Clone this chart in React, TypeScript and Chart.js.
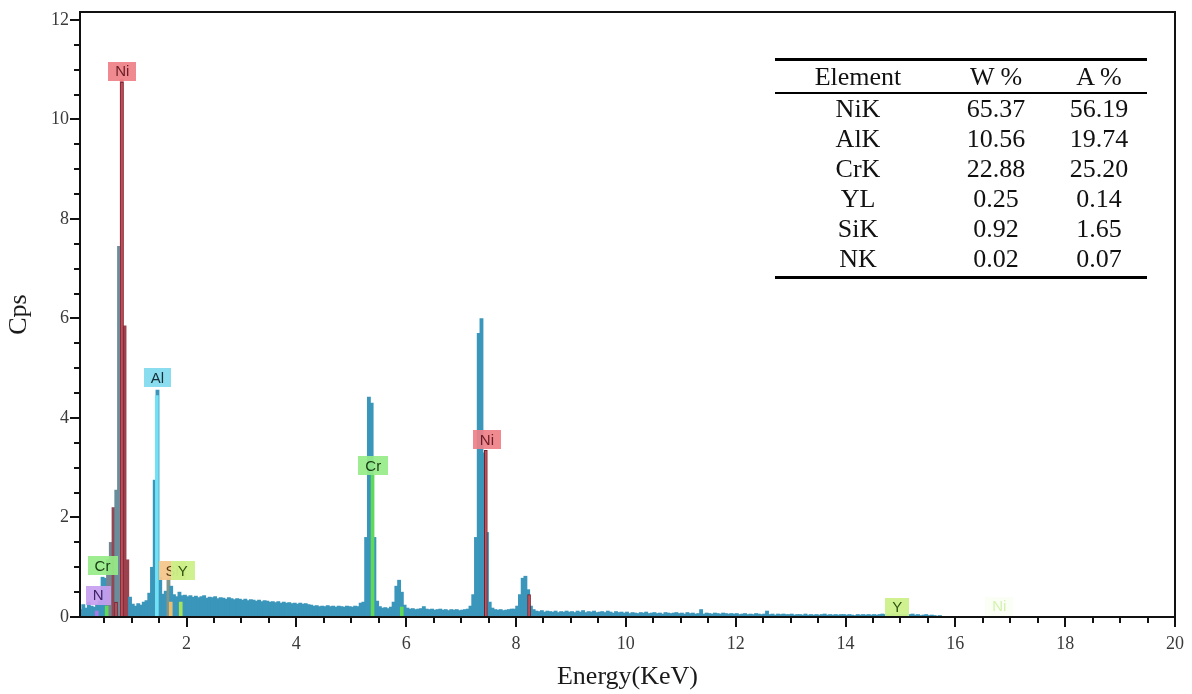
import React, { useEffect, useRef } from 'react';
import { Chart, registerables } from 'chart.js';

Chart.register(...registerables);

// ---------------- data ----------------
// EDS spectrum: counts per second in channels of 0.05 keV starting at 0.10 keV
const CHANNEL_START_KEV = 0.1;
const CHANNEL_WIDTH_KEV = 0.05;

const spectrumCps: number[] = [
  // 0.10 – 0.95 keV
  0.15, 0.25, 0.18, 0.30, 0.22, 0.20, 0.26, 0.32, 0.80, 0.78, 1.15, 1.50, 2.20, 2.55, 7.45, 10.80, 5.85, 1.15,
  // 1.00 – 1.95
  0.40, 0.26, 0.22, 0.27, 0.24, 0.30, 0.33, 0.48, 1.00, 2.75, 4.56, 0.80, 0.46, 0.52, 0.78, 0.62, 0.45, 0.41, 0.50, 0.43,
  // 2.00 – 2.95
  0.44, 0.41, 0.43, 0.40, 0.42, 0.39, 0.41, 0.43, 0.38, 0.40, 0.39, 0.41, 0.37, 0.39, 0.38, 0.36, 0.39, 0.37, 0.35, 0.37,
  // 3.00 – 3.95
  0.36, 0.34, 0.36, 0.33, 0.35, 0.34, 0.32, 0.34, 0.31, 0.33, 0.32, 0.30, 0.31, 0.29, 0.31, 0.28, 0.30, 0.28, 0.29, 0.27,
  // 4.00 – 4.95
  0.28, 0.26, 0.28, 0.26, 0.27, 0.25, 0.24, 0.22, 0.23, 0.21, 0.22, 0.21, 0.23, 0.21, 0.22, 0.20, 0.22, 0.21, 0.20, 0.22,
  // 5.00 – 5.95
  0.21, 0.20, 0.22, 0.21, 0.28, 0.30, 1.60, 4.42, 4.30, 1.60, 0.32, 0.21, 0.18, 0.19, 0.17, 0.20, 0.30, 0.62, 0.74, 0.50,
  // 6.00 – 6.95
  0.24, 0.18, 0.16, 0.17, 0.15, 0.16, 0.17, 0.21, 0.16, 0.15, 0.16, 0.14, 0.15, 0.16, 0.14, 0.15, 0.13, 0.15, 0.14, 0.15,
  // 7.00 – 7.95
  0.13, 0.14, 0.15, 0.16, 0.22, 0.45, 1.60, 5.70, 6.00, 3.30, 1.70, 0.30, 0.18, 0.15, 0.14, 0.15, 0.13, 0.14, 0.15, 0.16,
  // 8.00 – 8.95
  0.16, 0.22, 0.45, 0.78, 0.82, 0.55, 0.22, 0.15, 0.12, 0.11, 0.13, 0.10, 0.12, 0.11, 0.10, 0.12, 0.09, 0.11, 0.10, 0.12,
  // 9.00 – 9.95
  0.10, 0.11, 0.09, 0.12, 0.10, 0.13, 0.09, 0.11, 0.10, 0.12, 0.09, 0.10, 0.11, 0.09, 0.12, 0.10, 0.08, 0.11, 0.09, 0.10,
  // 10.00 – 10.95
  0.08, 0.10, 0.07, 0.09, 0.08, 0.07, 0.09, 0.08, 0.10, 0.07, 0.08, 0.09, 0.07, 0.08, 0.06, 0.09, 0.08, 0.07, 0.08, 0.09,
  // 11.00 – 11.95
  0.07, 0.08, 0.06, 0.09, 0.07, 0.08, 0.06, 0.07, 0.15, 0.06, 0.08, 0.07, 0.06, 0.08, 0.07, 0.06, 0.08, 0.07, 0.06, 0.07,
  // 12.00 – 12.95
  0.06, 0.07, 0.05, 0.06, 0.07, 0.05, 0.06, 0.05, 0.07, 0.06, 0.05, 0.06, 0.12, 0.05, 0.06, 0.04, 0.06, 0.05, 0.06, 0.05,
  // 13.00 – 13.95
  0.05, 0.06, 0.04, 0.05, 0.05, 0.04, 0.06, 0.04, 0.05, 0.04, 0.05, 0.04, 0.05, 0.06, 0.04, 0.05, 0.04, 0.05, 0.04, 0.05,
  // 14.00 – 14.95
  0.05, 0.04, 0.05, 0.04, 0.03, 0.05, 0.04, 0.05, 0.04, 0.05, 0.04, 0.05, 0.04, 0.05, 0.06, 0.05, 0.04, 0.05, 0.06, 0.05,
  // 15.00 – 15.95
  0.05, 0.04, 0.05, 0.04, 0.05, 0.06, 0.04, 0.05, 0.03, 0.04, 0.05, 0.03, 0.04, 0.03, 0.02, 0.03, 0.00, 0.00, 0.00, 0.00,
];

// element line markers
const markerElement = ['N', 'Cr', 'Ni', 'Ni', 'Al', 'Si', 'Y', 'Cr', 'Cr', 'Ni', 'Ni', 'Y'];
const markerEnergy = [0.392, 0.573, 0.743, 0.851, 1.487, 1.740, 1.922, 5.415, 5.947, 7.478, 8.265, 14.958];
const markerCps = [0.12, 0.22, 0.30, 10.75, 4.45, 0.30, 0.30, 2.85, 0.20, 3.35, 0.45, 0.05];

// element tags
const labelText = ['Ni', 'Al', 'N', 'Cr', 'Si', 'Y', 'Cr', 'Ni', 'Y', 'Ni'];
const labelEnergy = [0.83, 1.47, 0.39, 0.47, 1.74, 1.93, 5.40, 7.47, 14.94, 16.8];
const labelCps = [10.97, 4.81, 0.44, 1.03, 0.93, 0.93, 3.04, 3.56, 0.20, 0.22];

// axes
const xTickLabels = [2, 4, 6, 8, 10, 12, 14, 16, 18, 20];
const yTickLabels = [0, 2, 4, 6, 8, 10, 12];

// composition table
const tableHeader = ['Element', 'W %', 'A %'];
const tableElements = ['NiK', 'AlK', 'CrK', 'YL', 'SiK', 'NK'];
const weightPct = ['65.37', '10.56', '22.88', '0.25', '0.92', '0.02'];
const atomicPct = ['56.19', '19.74', '25.20', '0.14', '1.65', '0.07'];

// ---------------- styles ----------------
const SERIF = '"Liberation Serif", "Times New Roman", Times, serif';
const SANS = '"Liberation Sans", Arial, sans-serif';
const TEAL = 'rgb(58,150,186)';
const X_MIN = 0.06;
const X_MAX = 20;
const Y_MAX = 12.16;
const MINOR_STEP = 0.5;

const CHANNEL_TINTS = [
  { from: 0.575, to: 0.675, color: 'rgb(118,132,146)' },
  { from: 0.675, to: 0.725, color: 'rgb(146,72,84)' },
  { from: 0.725, to: 0.825, color: 'rgb(104,142,156)' },
  { from: 0.825, to: 0.875, color: 'rgb(214,110,120)' },
  { from: 0.875, to: 0.975, color: 'rgb(156,66,78)' },
  { from: 1.675, to: 1.725, color: 'rgb(128,150,140)' },
];

const ELEMENT_STYLE: Record<string, { box: string; text: string; line: string; edge: string }> = {
  Ni: { box: 'rgba(238,128,136,0.92)', text: '#6b1d25', line: 'rgb(200,82,94)', edge: 'rgb(112,32,42)' },
  Al: { box: 'rgba(128,218,238,0.92)', text: '#16303a', line: 'rgb(112,226,246)', edge: 'rgb(112,226,246)' },
  Cr: { box: 'rgba(150,236,135,0.92)', text: '#173a12', line: 'rgb(96,216,88)', edge: 'rgb(96,216,88)' },
  N: { box: 'rgba(200,160,240,0.92)', text: '#3d2466', line: 'rgb(170,120,230)', edge: 'rgb(170,120,230)' },
  Si: { box: 'rgba(244,198,140,0.95)', text: '#5a3a10', line: 'rgb(235,190,110)', edge: 'rgb(235,190,110)' },
  Y: { box: 'rgba(204,240,138,0.95)', text: '#2e5410', line: 'rgb(165,228,90)', edge: 'rgb(165,228,90)' },
};
const FAINT_LABELS = [9];

function channelColor(e: number): string {
  for (const t of CHANNEL_TINTS) if (e > t.from && e < t.to) return t.color;
  return TEAL;
}

const labelsPlugin = {
  id: 'edsLabels',
  afterDatasetsDraw(chart: any) {
    const { ctx, scales } = chart;
    const x = scales.x;
    const y = scales.y;
    ctx.save();
    ctx.font = `15px ${SANS}`;
    ctx.textAlign = 'center';
    ctx.textBaseline = 'middle';
    labelText.forEach((t, i) => {
      const st = ELEMENT_STYLE[t];
      const px = x.getPixelForValue(labelEnergy[i]);
      const py = y.getPixelForValue(labelCps[i]);
      const w = Math.round(ctx.measureText(t).width + 14);
      const h = 19;
      const faint = FAINT_LABELS.includes(i);
      ctx.globalAlpha = faint ? 0.1 : 1;
      ctx.fillStyle = faint ? ELEMENT_STYLE.Y.box : st.box;
      ctx.fillRect(Math.round(px - w / 2), Math.round(py - h / 2), w, h);
      ctx.globalAlpha = faint ? 0.45 : 1;
      ctx.fillStyle = faint ? ELEMENT_STYLE.Y.line : st.text;
      ctx.fillText(t, px, py + 1);
    });
    ctx.restore();
  },
};

const axesPlugin = {
  id: 'edsAxes',
  afterDraw(chart: any) {
    const { ctx, chartArea: a, scales } = chart;
    const x = scales.x;
    const y = scales.y;
    ctx.save();
    ctx.strokeStyle = '#111';
    ctx.lineWidth = 2;
    ctx.strokeRect(Math.round(a.left), Math.round(a.top), Math.round(a.right - a.left), Math.round(a.bottom - a.top));
    ctx.beginPath();
    for (let v = MINOR_STEP; v <= X_MAX + 1e-9; v += MINOR_STEP) {
      const major = xTickLabels.some((t) => Math.abs(t - v) < 1e-6);
      const px = Math.round(x.getPixelForValue(v));
      ctx.moveTo(px, a.bottom);
      ctx.lineTo(px, a.bottom + (major ? 10 : 6));
    }
    for (let v = 0; v <= 12 + 1e-9; v += MINOR_STEP) {
      const major = yTickLabels.some((t) => Math.abs(t - v) < 1e-6);
      const py = Math.round(y.getPixelForValue(v));
      ctx.moveTo(a.left, py);
      ctx.lineTo(a.left - (major ? 10 : 6), py);
    }
    ctx.stroke();
    ctx.restore();
  },
};

export default function App() {
  const canvasRef = useRef<HTMLCanvasElement | null>(null);

  useEffect(() => {
    if (!canvasRef.current) return;
    const channels = spectrumCps.map((v, i) => ({
      x: +(CHANNEL_START_KEV + i * CHANNEL_WIDTH_KEV).toFixed(2),
      y: v,
    }));
    const markers = markerEnergy.map((e, i) => ({ x: e, y: markerCps[i] }));

    const chart = new Chart(canvasRef.current, {
      type: 'bar',
      data: {
        datasets: [
          {
            label: 'Markers',
            data: markers as any,
            stack: 'eds',
            order: 0,
            barThickness: 3,
            backgroundColor: markerElement.map((m) => ELEMENT_STYLE[m].line),
            borderColor: markerElement.map((m) => ELEMENT_STYLE[m].edge),
            borderWidth: markerElement.map((m) => (m === 'Ni' ? 1 : 0)),
            borderSkipped: 'bottom',
          },
          {
            label: 'Spectrum',
            data: channels as any,
            stack: 'eds',
            order: 1,
            barThickness: 3.2,
            backgroundColor: channels.map((p) => channelColor(p.x)),
            borderWidth: 0,
          },
        ],
      },
      options: {
        animation: false,
        responsive: true,
        maintainAspectRatio: false,
        devicePixelRatio: 1,
        layout: { padding: { top: 12, right: 17, left: 0, bottom: 0 } },
        plugins: { legend: { display: false }, tooltip: { enabled: false } },
        scales: {
          x: {
            type: 'linear',
            min: X_MIN,
            max: X_MAX,
            offset: false,
            stacked: false,
            grid: { display: false, drawTicks: false, tickLength: 0, offset: false },
            border: { display: false },
            afterBuildTicks: (scale: any) => {
              scale.ticks = xTickLabels.map((v) => ({ value: v }));
            },
            afterFit: (scale: any) => {
              scale.height = 77;
              scale.paddingLeft = 0;
              scale.paddingRight = 0;
            },
            ticks: {
              autoSkip: false,
              maxRotation: 0,
              padding: 16,
              color: '#3a3a3a',
              font: { family: SERIF, size: 18 },
              callback: (v: any) => String(v),
            },
            title: {
              display: true,
              text: 'Energy(KeV)',
              color: '#1a1a1a',
              font: { family: SERIF, size: 26 },
              padding: { top: 0, bottom: 1 },
            },
          },
          y: {
            type: 'linear',
            min: 0,
            max: Y_MAX,
            stacked: false,
            grid: { display: false, drawTicks: false, tickLength: 0 },
            border: { display: false },
            afterBuildTicks: (scale: any) => {
              scale.ticks = yTickLabels.map((v) => ({ value: v }));
            },
            afterFit: (scale: any) => {
              scale.width = 80;
              scale.paddingTop = 0;
              scale.paddingBottom = 0;
            },
            ticks: {
              autoSkip: false,
              padding: 11,
              color: '#3a3a3a',
              font: { family: SERIF, size: 18 },
              callback: (v: any) => String(v),
            },
            title: {
              display: true,
              text: 'Cps',
              color: '#1a1a1a',
              font: { family: SERIF, size: 26 },
              padding: { top: 4, bottom: 0 },
            },
          },
        },
      } as any,
      plugins: [labelsPlugin, axesPlugin],
    });
    return () => chart.destroy();
  }, []);

  const cell = (w: number): React.CSSProperties => ({ width: w, textAlign: 'center' });
  const widths = [166, 110, 96];

  return (
    <div style={{ position: 'fixed', left: 0, top: 0, width: 1192, height: 694, background: '#fff', overflow: 'hidden' }}>
      <div style={{ position: 'absolute', left: 0, top: 0, width: 1192, height: 694 }}>
        <canvas ref={canvasRef} />
      </div>
      <div
        style={{
          position: 'absolute',
          left: 775,
          top: 58,
          width: 372,
          fontFamily: SERIF,
          fontSize: 26,
          color: '#111',
          borderTop: '3px solid #000',
          borderBottom: '3px solid #000',
          paddingBottom: 2,
        }}
      >
        <div style={{ display: 'flex', height: 31, alignItems: 'center', borderBottom: '2px solid #000', lineHeight: '31px' }}>
          {tableHeader.map((h, i) => (
            <div key={h} style={cell(widths[i])}>{h}</div>
          ))}
        </div>
        {tableElements.map((el, r) => (
          <div key={el} style={{ display: 'flex', height: 30, alignItems: 'center', lineHeight: '30px' }}>
            <div style={cell(widths[0])}>{el}</div>
            <div style={cell(widths[1])}>{weightPct[r]}</div>
            <div style={cell(widths[2])}>{atomicPct[r]}</div>
          </div>
        ))}
      </div>
    </div>
  );
}
